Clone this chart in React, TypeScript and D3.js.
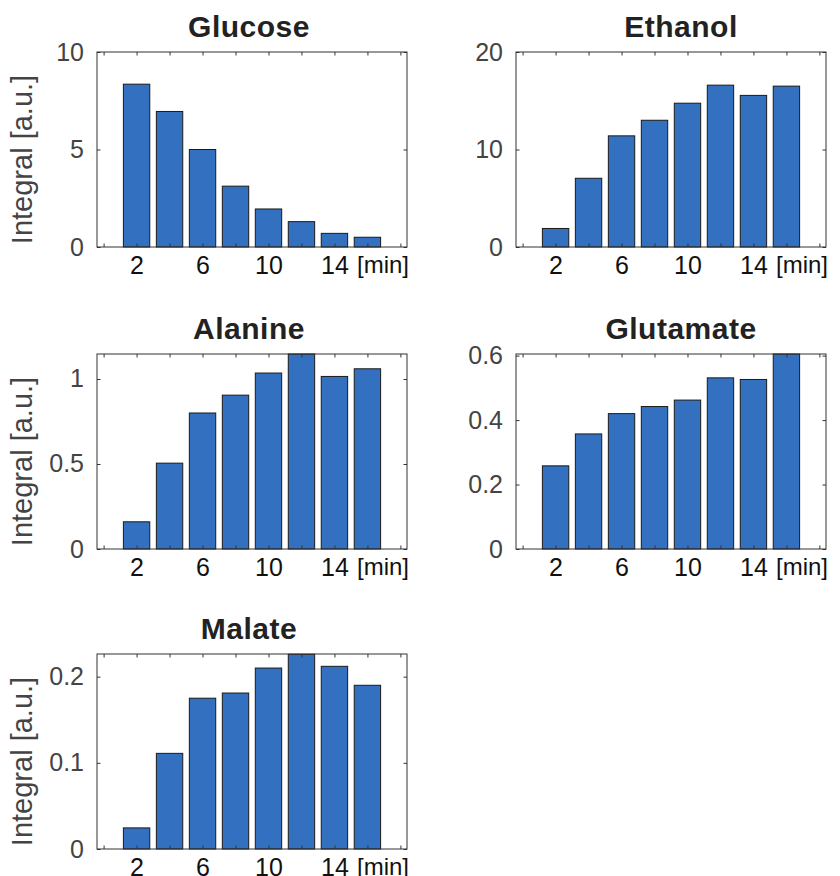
import React, { useEffect, useRef } from 'react';
import * as d3 from 'd3';

// sampling times [min]
const times = [2, 4, 6, 8, 10, 12, 14, 16];
const xTickValues = [0, 2, 4, 6, 8, 10, 12, 14, 16, 18];
const xTickLabels = [2, 6, 10, 14];

const glucose = [8.35, 6.95, 5.0, 3.12, 1.95, 1.3, 0.7, 0.5];
const ethanol = [1.9, 7.05, 11.4, 13.0, 14.75, 16.6, 15.55, 16.5];
const alanine = [0.16, 0.505, 0.8, 0.905, 1.035, 1.147, 1.015, 1.06];
const glutamate = [0.258, 0.357, 0.42, 0.442, 0.462, 0.531, 0.526, 0.605];
const malate = [0.0245, 0.111, 0.175, 0.181, 0.21, 0.226, 0.212, 0.19];

const glucoseTicks = [0, 5, 10];
const ethanolTicks = [0, 10, 20];
const alanineTicks = [0, 0.5, 1];
const glutamateTicks = [0, 0.2, 0.4, 0.6];
const malateTicks = [0, 0.1, 0.2];

const names = ["Glucose", "Ethanol", "Alanine", "Glutamate", "Malate"];
const yMaxes = [10, 20, 1.147, 0.605, 0.2263];

const App = () => {
    const ref = useRef(null);

    useEffect(() => {
        const panels = [
            { name: names[0], values: glucose, yMax: yMaxes[0], ticks: glucoseTicks },
            { name: names[1], values: ethanol, yMax: yMaxes[1], ticks: ethanolTicks },
            { name: names[2], values: alanine, yMax: yMaxes[2], ticks: alanineTicks },
            { name: names[3], values: glutamate, yMax: yMaxes[3], ticks: glutamateTicks },
            { name: names[4], values: malate, yMax: yMaxes[4], ticks: malateTicks }
        ];

        const svgEl = d3.select(ref.current);
        svgEl.selectAll("*").remove();

        const font = "'Liberation Sans', Arial, Helvetica, sans-serif";
        const colLeft = [97, 516];
        const rowTop = [52, 354, 654];
        const width = 310, height = 195;

        panels.forEach((p, i) => {
            const col = i % 2, row = Math.floor(i / 2);
            const g = svgEl.append("g")
                .attr("transform", `translate(${colLeft[col]},${rowTop[row]})`);

            const x = d3.scaleLinear().domain([-0.4, 18.4]).range([0, width]);
            const y = d3.scaleLinear().domain([0, p.yMax]).range([height, 0]);
            const bw = x(1.6) - x(0);

            g.append("rect")
                .attr("width", width)
                .attr("height", height)
                .attr("fill", "#fff");

            g.selectAll(".bar")
                .data(p.values)
                .enter().append("rect")
                .attr("class", "bar")
                .attr("x", (d, j) => x(times[j]) - bw / 2)
                .attr("y", d => y(d))
                .attr("width", bw)
                .attr("height", d => y(0) - y(d))
                .attr("fill", "#3470c0")
                .attr("stroke", "#1a1a1a")
                .attr("stroke-width", 1);

            // x axis (bottom with labels, top mirrored)
            const xb = g.append("g")
                .attr("transform", `translate(0,${height})`)
                .call(d3.axisBottom(x)
                    .tickValues(xTickValues)
                    .tickSize(-3.5)
                    .tickPadding(9)
                    .tickFormat(d => xTickLabels.includes(d) ? String(d) : ""));
            const xt = g.append("g")
                .call(d3.axisTop(x).tickValues(xTickValues).tickSize(-3.5).tickFormat(() => ""));

            const yl = g.append("g")
                .call(d3.axisLeft(y)
                    .tickValues(p.ticks)
                    .tickSize(-3.5)
                    .tickPadding(13)
                    .tickFormat(d => String(d)));
            const yr = g.append("g")
                .attr("transform", `translate(${width},0)`)
                .call(d3.axisRight(y).tickValues(p.ticks).tickSize(-3.5).tickFormat(() => ""));

            [xb, xt, yl, yr].forEach(a => {
                a.select(".domain").remove();
                a.selectAll(".tick line").attr("stroke", "#333");
            });
            xb.selectAll("text")
                .attr("font-family", font)
                .attr("font-size", 25)
                .attr("fill", "#111");
            yl.selectAll("text")
                .attr("font-family", font)
                .attr("font-size", 25)
                .attr("fill", "#444");

            g.append("rect")
                .attr("width", width)
                .attr("height", height)
                .attr("fill", "none")
                .attr("stroke", "#333")
                .attr("stroke-width", 1);

            g.append("text")
                .attr("x", width + 2)
                .attr("y", height + 26)
                .attr("text-anchor", "end")
                .attr("font-family", font)
                .attr("font-size", 24)
                .attr("fill", "#111")
                .text("[min]");

            g.append("text")
                .attr("x", width / 2 + (col === 0 ? -3 : 10))
                .attr("y", -15)
                .attr("text-anchor", "middle")
                .attr("font-family", font)
                .attr("font-size", 30)
                .attr("font-weight", "bold")
                .attr("letter-spacing", 0.5)
                .attr("fill", "#222")
                .text(p.name);

            if (col === 0) {
                g.append("text")
                    .attr("transform", `translate(${32 - colLeft[col]},${height / 2 + 10}) rotate(-90)`)
                    .attr("text-anchor", "middle")
                    .attr("font-family", font)
                    .attr("font-size", 29)
                    .attr("fill", "#444")
                    .text("Integral [a.u.]");
            }
        });
    }, []);

    return (
        <svg ref={ref} width={840} height={876}
            style={{ position: "absolute", left: 0, top: 0, background: "#fff" }} />
    );
};

export default App;
